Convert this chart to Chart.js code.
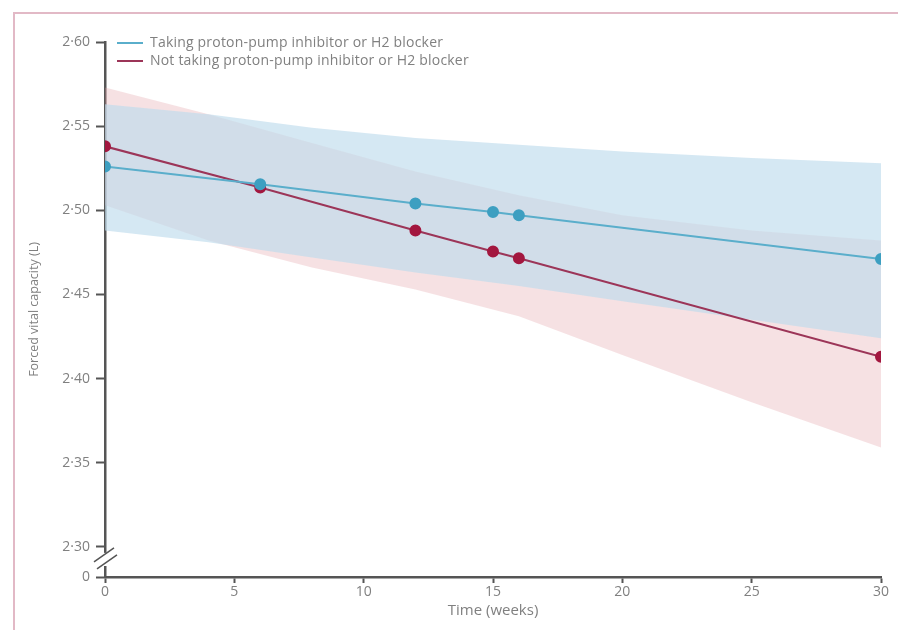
<!DOCTYPE html>
<html>
<head>
<meta charset="utf-8">
<script src="https://cdn.jsdelivr.net/npm/chart.js@4"></script>
<style>
  body { margin: 0; background: #fff; }
  #wrap { position: relative; width: 898px; height: 630px; overflow: hidden; }
  #frame { position: absolute; left: 13px; top: 12px; width: 900px; height: 640px;
           border-left: 2px solid #e2b9c6; border-top: 2px solid #e2b9c6; box-sizing: border-box; }
  #legenda { position: absolute; left: 117px; top: 33px; font: 14px "Open Sans", sans-serif; color: #808080; letter-spacing: 0.2px; }
  #legenda div { height: 18px; line-height: 18px; white-space: nowrap; }
  #legenda span { display: inline-block; width: 26px; height: 2px; vertical-align: middle; margin-right: 7px; }
</style>
</head>
<body>
<div id="wrap">
  <div id="frame"></div>
  <canvas id="grafico" width="898" height="630"></canvas>
  <div id="legenda"></div>
</div>
<script>
// dados
const semanas = [0, 6, 12, 15, 16, 30];
const comInibidor = [2.526, 2.5155, 2.504, 2.499, 2.497, 2.471];
const semInibidor = [2.538, 2.5135, 2.488, 2.4755, 2.4715, 2.413];

// intervalos de confiança
const semanasIC = [0, 4, 8, 12, 16, 20, 25, 30];
const comInibidorSup = [2.563, 2.557, 2.549, 2.543, 2.539, 2.535, 2.531, 2.528];
const comInibidorInf = [2.488, 2.481, 2.472, 2.463, 2.455, 2.446, 2.435, 2.424];
const semInibidorSup = [2.573, 2.557, 2.540, 2.523, 2.509, 2.497, 2.488, 2.482];
const semInibidorInf = [2.503, 2.482, 2.466, 2.453, 2.437, 2.414, 2.386, 2.359];

const ticksY = [2.30, 2.35, 2.40, 2.45, 2.50, 2.55, 2.60];
const ticksX = [0, 5, 10, 15, 20, 25, 30];
const rotulos = ['Taking proton-pump inhibitor or H2 blocker', 'Not taking proton-pump inhibitor or H2 blocker'];

const yQuebra = 2.2821; // fundo do eixo (rotulado "0")

const azul = '#5aaecb';
const azulPonto = '#3d9fc1';
const vermelho = '#9c3558';
const vermelhoPonto = '#a3173f';

function pares(xs, ys) {
  return xs.map((x, i) => ({ x: x, y: ys[i] }));
}

// legenda em html
const legenda = document.getElementById('legenda');
[[azul, rotulos[0]], [vermelho, rotulos[1]]].forEach(([cor, txt]) => {
  const d = document.createElement('div');
  d.innerHTML = '<span style="background:' + cor + '"></span>' + txt;
  legenda.appendChild(d);
});

// desenha a quebra do eixo y
const quebraEixo = {
  id: 'quebraEixo',
  afterDraw(chart) {
    const ctx = chart.ctx;
    const x0 = chart.chartArea.left;
    const yB = chart.scales.y.getPixelForValue(2.30);
    const y0 = chart.scales.y.getPixelForValue(yQuebra);
    ctx.save();
    ctx.fillStyle = '#fff';
    ctx.fillRect(x0 - 3, yB + 6, 6, y0 - yB - 17);
    ctx.strokeStyle = '#555';
    ctx.lineWidth = 1.5;
    ctx.beginPath();
    ctx.moveTo(x0 - 11, yB + 15); ctx.lineTo(x0 + 9, yB + 1);
    ctx.moveTo(x0 - 8, yB + 22); ctx.lineTo(x0 + 12, yB + 8);
    ctx.stroke();
    ctx.restore();
  }
};

const fonteTick = { family: '"Open Sans", sans-serif', size: 14 };

new Chart(document.getElementById('grafico'), {
  type: 'line',
  data: {
    datasets: [
      {
        label: rotulos[0],
        data: pares(semanas, comInibidor),
        borderColor: azul, borderWidth: 2,
        pointBackgroundColor: azulPonto, pointBorderColor: azulPonto,
        pointRadius: 5, tension: 0, fill: false
      },
      {
        label: rotulos[1],
        data: pares(semanas, semInibidor),
        borderColor: vermelho, borderWidth: 2,
        pointBackgroundColor: vermelhoPonto, pointBorderColor: vermelhoPonto,
        pointRadius: 5, tension: 0, fill: false
      },
      {
        data: pares(semanasIC, comInibidorInf),
        borderWidth: 0, pointRadius: 0, fill: false
      },
      {
        data: pares(semanasIC, comInibidorSup),
        borderWidth: 0, pointRadius: 0,
        fill: '-1', backgroundColor: 'rgba(190, 220, 236, 0.65)'
      },
      {
        data: pares(semanasIC, semInibidorInf),
        borderWidth: 0, pointRadius: 0, fill: false
      },
      {
        data: pares(semanasIC, semInibidorSup),
        borderWidth: 0, pointRadius: 0,
        fill: '-1', backgroundColor: 'rgba(225, 155, 162, 0.3)'
      }
    ]
  },
  options: {
    responsive: false,
    animation: false,
    layout: { padding: { top: 42, right: 17, left: 0, bottom: 0 } },
    plugins: {
      legend: { display: false },
      tooltip: { enabled: false },
      filler: { drawTime: 'beforeDatasetsDraw' }
    },
    scales: {
      x: {
        type: 'linear', min: 0, max: 30,
        afterBuildTicks: s => { s.ticks = ticksX.map(v => ({ value: v })); },
        afterFit: s => { s.height = 53; },
        grid: { drawOnChartArea: false, color: '#555', tickLength: 6, tickWidth: 2 },
        border: { color: '#555', width: 2.5 },
        ticks: { color: '#808080', font: fonteTick, padding: 1, maxRotation: 0 },
        title: { display: true, text: 'Time (weeks)', color: '#808080',
                 font: { family: '"Open Sans", sans-serif', size: 15 }, padding: { top: 0, bottom: 10 } }
      },
      y: {
        min: yQuebra, max: 2.60,
        afterBuildTicks: s => { s.ticks = [yQuebra].concat(ticksY).map(v => ({ value: v })); },
        afterFit: s => { s.width = 105; },
        grid: { drawOnChartArea: false, color: '#555', tickLength: 9, tickWidth: 2 },
        border: { color: '#555', width: 2.5 },
        ticks: {
          color: '#808080', font: fonteTick, padding: 6,
          callback: v => v < 2.29 ? '0' : v.toFixed(2).replace('.', '·')
        },
        title: { display: true, text: 'Forced vital capacity (L)', color: '#808080',
                 font: { family: '"Open Sans", sans-serif', size: 12.5 }, padding: { top: 27, bottom: 0 } }
      }
    }
  },
  plugins: [quebraEixo]
});
</script>
</body>
</html>
